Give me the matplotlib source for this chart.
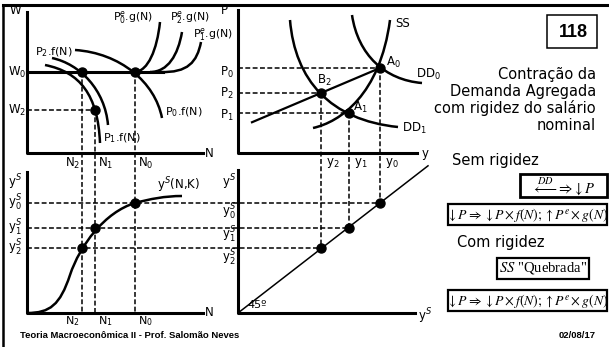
import matplotlib.pyplot as plt
from matplotlib.path import Path
from matplotlib.patches import PathPatch, Rectangle

# diagram coordinates (pixel-like, y grows downward)
N_lvl = [135, 95, 82]        # N0, N1, N2
W_lvl = [72, 110]            # W0, W2
P_lvl = [68, 113, 93]        # P0, P1, P2
y_lvl = [380, 349, 321]      # y0, y1, y2
yS_lvl = [203, 228, 248]     # yS0, yS1, yS2

# curve control points (cubic bezier chains)
P0f = [(75, 50), (120, 53), (155, 82), (162, 118)]
P2f = [(52, 58), (80, 64), (105, 90), (108, 125)]
P1f = [(45, 65), (80, 72), (98, 95), (100, 143)]
Pe0g = [(135, 72), (148, 71), (157, 50), (160, 22)]
Pe2g = [(150, 72), (168, 72), (178, 55), (182, 32)]
Pe1g = [(160, 72), (188, 73), (197, 62), (201, 42)]
SS = [(313, 128), (340, 122), (380, 95), (390, 20)]
DD0 = [(352, 15), (358, 55), (385, 80), (422, 83)]
DD1 = [(290, 20), (295, 80), (330, 120), (398, 127)]
ySNK = [(27, 313), (50, 313), (60, 305), (70, 275),
        (80, 245), (105, 212), (135, 203),
        (150, 199), (165, 196), (182, 196)]

fig = plt.figure(figsize=(6.09, 3.47), dpi=100)
ax = fig.add_axes([0, 0, 1, 1])
ax.set_xlim(0, 609)
ax.set_ylim(347, 0)
ax.axis('off')

def bez(pts, lw=1.8):
    codes = [Path.MOVETO] + [Path.CURVE4] * (len(pts) - 1)
    ax.add_patch(PathPatch(Path(pts, codes), fc='none', ec='black', lw=lw))

def dash(xs, ys):
    ax.plot(xs, ys, color='black', lw=1.1, dashes=(3.2, 1.6))

def lab(x, y, s, ha='left', fs=8.5):
    ax.text(x, y, s, ha=ha, va='center', fontsize=fs, family='DejaVu Sans')

# frame
ax.plot([3, 609], [5, 5], color='black', lw=2.2)
ax.plot([3, 3], [5, 347], color='black', lw=1.8)

# axes of the four panels
ax.plot([27, 27, 203], [12, 153, 153], color='black', lw=2.2)
ax.plot([238, 238, 417], [10, 153, 153], color='black', lw=2.2)
ax.plot([27, 27, 203], [172, 313, 313], color='black', lw=2.2)
ax.plot([238, 238, 415], [170, 313, 313], color='black', lw=2.2)

# dashed guides
for n, w in zip(N_lvl, [W_lvl[0], W_lvl[1], W_lvl[0]]):
    dash([n, n], [w, 313])
dash([27, N_lvl[1]], [W_lvl[1], W_lvl[1]])
for yy, pp, ys in zip(y_lvl, P_lvl, yS_lvl):
    dash([238, yy], [pp, pp])
    dash([yy, yy], [pp, ys])
    dash([27, yy], [ys, ys])

# top-left curves
ax.plot([27, 163], [W_lvl[0], W_lvl[0]], color='black', lw=2.2)
for c in [P0f, P2f, P1f, Pe0g, Pe2g, Pe1g]:
    bez(c)

# top-right curves
for c in [SS, DD0, DD1]:
    bez(c)
slope = (P_lvl[0] - P_lvl[2]) / (y_lvl[0] - y_lvl[2])
ax.plot([252, y_lvl[0]], [P_lvl[2] + slope * (252 - y_lvl[2]), P_lvl[0]],
        color='black', lw=1.6)

# bottom-left curve
bez(ySNK)

# bottom-right 45 degree line
s45 = (313 - yS_lvl[0]) / (y_lvl[0] - 238)
ax.plot([238, 428], [313, 313 - s45 * (428 - 238)], color='black', lw=1.1)

# points
dots_x = [N_lvl[2], N_lvl[1], N_lvl[0]] + y_lvl + [N_lvl[0], N_lvl[1], N_lvl[2]] + y_lvl
dots_y = [W_lvl[0], W_lvl[1], W_lvl[0]] + P_lvl + yS_lvl + yS_lvl
ax.plot(dots_x, dots_y, 'o', color='black', ms=6.5)

# labels top-left
lab(10, 10, 'W')
lab(8, 72, 'W$_0$')
lab(8, 110, 'W$_2$')
lab(35, 52, 'P$_2$.f(N)', fs=8)
lab(103, 138, 'P$_1$.f(N)', fs=8)
lab(165, 112, 'P$_0$.f(N)', fs=8)
lab(113, 17, 'P$^e_0$.g(N)', fs=7.8)
lab(170, 17, 'P$^e_2$.g(N)', fs=7.8)
lab(193, 34, 'P$^e_1$.g(N)', fs=7.8)
lab(205, 153, 'N')
for n, t in zip(N_lvl, ['N$_0$', 'N$_1$', 'N$_2$']):
    lab(n + (3 if n != N_lvl[2] else -17), 163, t)
    lab(n + (3 if n != N_lvl[2] else -17), 321, t, fs=8)

# labels top-right
lab(221, 10, 'P')
lab(220, 72, 'P$_0$')
lab(220, 93, 'P$_2$')
lab(220, 115, 'P$_1$')
lab(395, 23, 'SS')
lab(386, 62, 'A$_0$')
lab(317, 80, 'B$_2$')
lab(353, 107, 'A$_1$')
lab(416, 74, 'DD$_0$')
lab(402, 128, 'DD$_1$')
lab(422, 153, 'y')
for yy, t in zip(y_lvl, ['y$_0$', 'y$_1$', 'y$_2$']):
    lab(yy + 5, 163, t)

# labels bottom
lab(8, 182, 'y$^S$')
for ys, t in zip(yS_lvl, ['y$^S_0$', 'y$^S_1$', 'y$^S_2$']):
    lab(8, ys, t)
lab(236, 182, 'y$^S$', ha='right')
for ys, t in zip([212, 235, 258], ['y$^S_0$', 'y$^S_1$', 'y$^S_2$']):
    lab(236, ys, t, ha='right')
lab(157, 185, 'y$^S$(N,K)')
lab(205, 313, 'N')
lab(247, 305, '45º', fs=8)
lab(418, 316, 'y$^S$')

# right text
ax.add_patch(Rectangle((547, 15), 50, 33, fc='white', ec='black', lw=1.1))
ax.text(573, 32, '118', ha='center', va='center', fontsize=13,
        fontweight='bold', family='Liberation Sans')
for yy, t in zip([74, 91, 108, 125],
                 ['Contração da', 'Demanda Agregada',
                  'com rigidez do salário', 'nominal']):
    ax.text(596, yy, t, ha='right', va='center', fontsize=10.5, family='DejaVu Sans')
ax.text(452, 160, 'Sem rigidez', ha='left', va='center', fontsize=10.5, family='DejaVu Sans')
ax.text(457, 242, 'Com rigidez', ha='left', va='center', fontsize=10.5, family='DejaVu Sans')

rule = r'$\downarrow P\Rightarrow\downarrow P\times f(N);\uparrow P^{e}\times g(N)$'
boxes = [(520, 174, 87, 23, r'$\overset{DD}{\longleftarrow}\!\Rightarrow\!\downarrow P$', 10.5, 2.0, 1.5),
         (448, 204, 159, 21, rule, 9.9, 1.6, 0),
         (497, 258, 92, 21, r'$SS$ "Quebrada"', 10.5, 1.6, 0),
         (448, 290, 159, 21, rule, 9.9, 1.6, 0)]
for bx, by, bw, bh, t, fs, blw, dy in boxes:
    ax.add_patch(Rectangle((bx, by), bw, bh, fc='white', ec='black', lw=blw))
    ax.text(bx + bw / 2, by + bh / 2 + dy, t, ha='center', va='center', fontsize=fs,
            family='Liberation Serif', math_fontfamily='stix')

ax.text(20, 335, 'Teoria Macroeconômica II - Prof. Salomão Neves', ha='left', va='center',
        fontsize=6.8, fontweight='bold', family='Liberation Sans')
ax.text(596, 335, '02/08/17', ha='right', va='center', fontsize=6.8,
        fontweight='bold', family='Liberation Sans')

fig.savefig('out.png', dpi=100)
